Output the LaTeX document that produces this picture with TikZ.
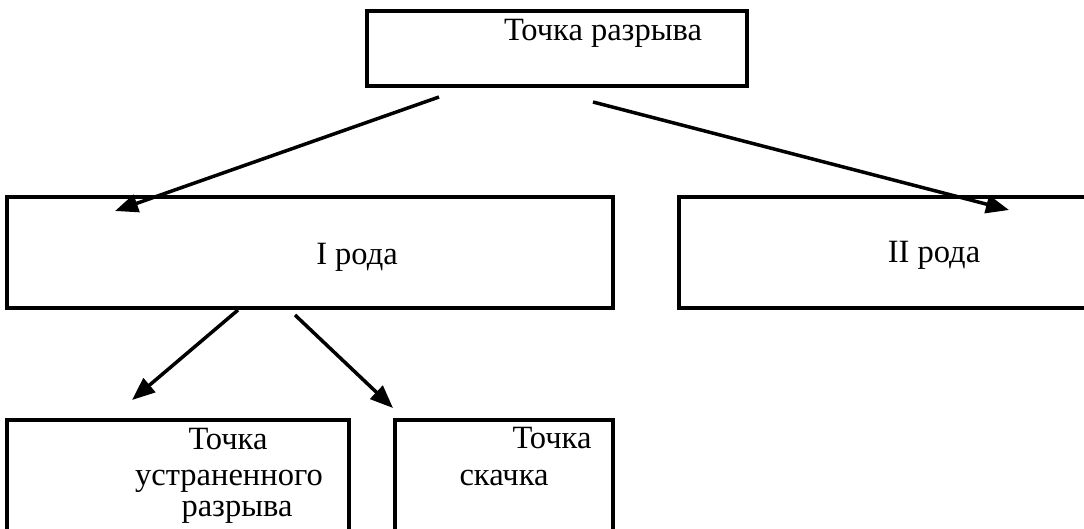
\documentclass[tikz,border=0pt]{standalone}
\usepackage{fontspec}
\setmainfont{Liberation Serif}
\usetikzlibrary{arrows.meta}
\begin{document}
\begin{tikzpicture}[x=1pt,y=-1pt,
  box/.style={draw=black,line width=3.05pt,fill=none},
  lbl/.style={anchor=base,inner sep=0pt,font=\fontsize{32.5}{36}\selectfont},
  arr/.style={line width=3.5pt,-{Triangle[length=23pt,width=18pt]}}]
\useasboundingbox[fill=white] (0,0) rectangle (1084,529);
% boxes
\draw[box] (367,11) rectangle (747,86) node[pos=0.5,inner sep=0pt] (top) {};
\draw[box] (7,197) rectangle (613,308) node[pos=0.5,inner sep=0pt] (first) {};
\draw[box] (679,197) rectangle (1100,308) node[pos=0.5,inner sep=0pt] (second) {};
\draw[box] (7,420) rectangle (349,545) node[pos=0.5,inner sep=0pt] (remov) {};
\draw[box] (395,420) rectangle (613,545) node[pos=0.5,inner sep=0pt] (jump) {};
% texts
\node[lbl] (ttop) at (603,41) {Точка разрыва};
\node[lbl] (tfirst) at (357,265) {I рода};
\node[lbl] (tsecond) at (934,263) {II рода};
\node[lbl] (tr1) at (228,449) {Точка};
\node[lbl] (tr2) at (229,485) {устраненного};
\node[lbl] (tr3) at (237,516) {разрыва};
\node[lbl] (tj1) at (552,448) {Точка};
\node[lbl] (tj2) at (504,485) {скачка};
% arrow end points
\coordinate (a1s) at (439,97);
\coordinate (a1e) at (115,211);
\coordinate (a2s) at (593,102);
\coordinate (a2e) at (1009,210);
\coordinate (a3s) at (238,310);
\coordinate (a3e) at (132,400);
\coordinate (a4s) at (295,315);
\coordinate (a4e) at (393,408);
\draw[arr] (a1s) -- (a1e);
\draw[arr] (a2s) -- (a2e);
\draw[arr] (a3s) -- (a3e);
\draw[arr] (a4s) -- (a4e);
\end{tikzpicture}
\end{document}
